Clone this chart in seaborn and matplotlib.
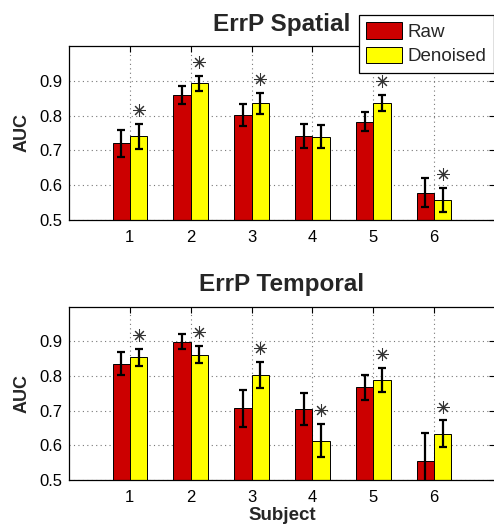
import matplotlib
matplotlib.use("Agg")
import matplotlib.pyplot as plt
import seaborn as sns
import pandas as pd
import numpy as np

subjects = ["1", "2", "3", "4", "5", "6"]
methods = ["Raw", "Denoised"]

spatial_raw = [0.720, 0.859, 0.801, 0.741, 0.782, 0.579]
spatial_raw_err = [0.040, 0.025, 0.031, 0.035, 0.027, 0.041]
spatial_den = [0.740, 0.893, 0.835, 0.739, 0.836, 0.557]
spatial_den_err = [0.035, 0.021, 0.030, 0.033, 0.023, 0.034]
spatial_sig = [True, True, True, False, True, True]

temporal_raw = [0.835, 0.899, 0.707, 0.705, 0.767, 0.556]
temporal_raw_err = [0.033, 0.021, 0.054, 0.046, 0.037, 0.079]
temporal_den = [0.854, 0.862, 0.803, 0.613, 0.788, 0.634]
temporal_den_err = [0.025, 0.025, 0.037, 0.048, 0.035, 0.038]
temporal_sig = [True, True, True, True, True, True]

yticks = [0.5, 0.6, 0.7, 0.8, 0.9]
colors = ["#CC0000", "#FFFF00"]

sns.set_theme(style="white")
plt.rcParams["font.family"] = ["Liberation Sans", "DejaVu Sans"]

fig = plt.figure(figsize=(4.94, 5.24), dpi=100)
W, H = 494, 524
ax1 = fig.add_axes([69 / W, 1 - 220 / H, 426 / W, 174 / H])
ax2 = fig.add_axes([69 / W, 1 - 480 / H, 426 / W, 173.3 / H])


def draw(ax, raw, raw_err, den, den_err, sig, title):
    df = pd.DataFrame({
        "Subject": subjects * 2,
        "Method": [methods[0]] * len(subjects) + [methods[1]] * len(subjects),
        "AUC": list(raw) + list(den),
    })
    sns.barplot(data=df, x="Subject", y="AUC", hue="Method", order=subjects,
                hue_order=methods, palette=colors, width=0.57, errorbar=None,
                edgecolor="black", linewidth=0.7, saturation=1, ax=ax)
    for cont, errs in zip(ax.containers, [raw_err, den_err]):
        for bar, e in zip(cont, errs):
            cx = bar.get_x() + bar.get_width() / 2
            ax.errorbar(cx, bar.get_height(), yerr=e, color="black",
                        elinewidth=1.6, capsize=3.2, capthick=1.6, zorder=4)
    for bar, e, s in zip(ax.containers[1], den_err, sig):
        if s:
            cx = bar.get_x() + bar.get_width() / 2
            ax.plot(cx, bar.get_height() + e + 0.04, marker=(8, 2, 0),
                    markersize=9, markeredgewidth=0.75, color="#333333",
                    linestyle="none", zorder=5)
    ax.set_xlim(-1, 6)
    ax.set_ylim(0.5, 1.0)
    ax.set_yticks(yticks)
    ax.set_yticklabels([f"{v:.1f}" for v in yticks])
    ax.set_axisbelow(True)
    ax.grid(True, linestyle=(0, (1, 3)), color="#777777", linewidth=0.8)
    for sp in ax.spines.values():
        sp.set_visible(True)
        sp.set_color("black")
        sp.set_linewidth(0.9)
    ax.tick_params(direction="in", top=True, right=True, length=4,
                   width=0.8, labelsize=12, colors="black")
    ax.tick_params(axis="x", pad=7)
    ax.tick_params(axis="y", pad=5)
    ax.set_title(title, fontsize=17.5, fontweight="bold", pad=11)
    ax.set_ylabel("AUC", fontsize=13, fontweight="bold", labelpad=6)
    ax.set_xlabel("")


draw(ax1, spatial_raw, spatial_raw_err, spatial_den, spatial_den_err,
     spatial_sig, "ErrP Spatial")
draw(ax2, temporal_raw, temporal_raw_err, temporal_den, temporal_den_err,
     temporal_sig, "ErrP Temporal")

handles, labels = ax1.get_legend_handles_labels()
ax1.get_legend().remove()
ax2.get_legend().remove()
leg = ax1.legend(handles, labels, loc="upper left",
                 bbox_to_anchor=(359 / W, 1 - 15 / H),
                 bbox_transform=fig.transFigure, fontsize=13.5,
                 frameon=True, fancybox=False, framealpha=1,
                 edgecolor="black", handlelength=1.92, handleheight=1.0,
                 handletextpad=0.3, labelspacing=0.3, borderpad=0.38,
                 borderaxespad=0)
leg.get_frame().set_linewidth(0.9)
leg.set_zorder(10)

ax2.set_xlabel("Subject", fontsize=13.5, fontweight="bold", labelpad=2)

fig.savefig("out.png", dpi=100)
